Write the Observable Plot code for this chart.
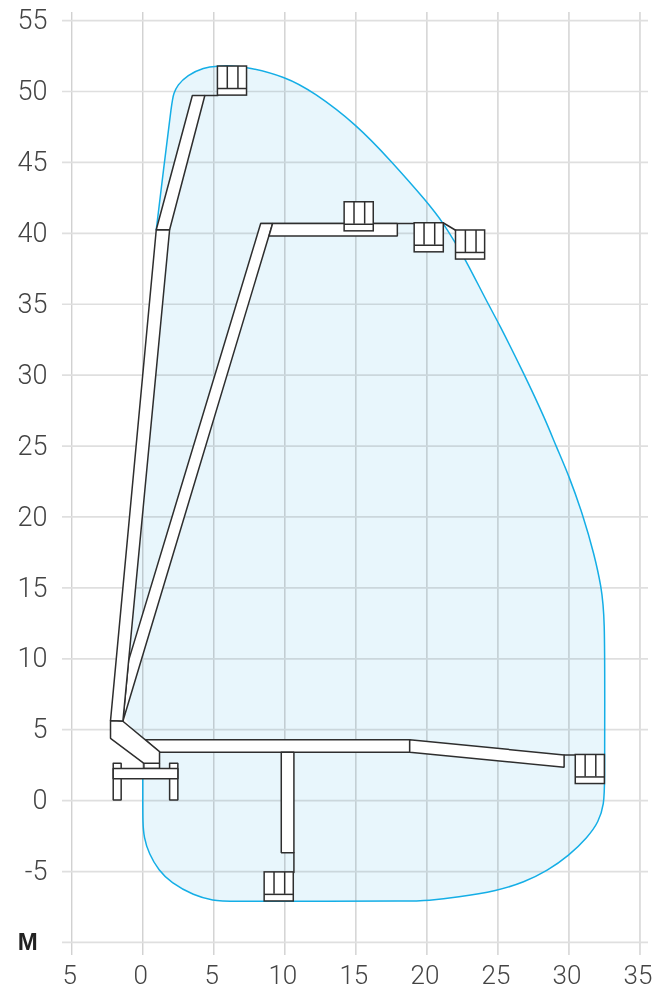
<!DOCTYPE html>
<html><head><meta charset="utf-8">
<script src="https://cdn.jsdelivr.net/npm/d3@7"></script>
<script src="https://cdn.jsdelivr.net/npm/@observablehq/plot@0.6"></script>
<style>html,body{margin:0;padding:0;background:#fff}svg{display:block}</style>
</head><body><div id="chart"></div>
<script>
const xTicks = [-5,0,5,10,15,20,25,30,35];
const yTicks = [-10,-5,0,5,10,15,20,25,30,35,40,45,50,55];
const yLabels = [-5,0,5,10,15,20,25,30,35,40,45,50,55];
const outline = [[0,1.55],[0,0],[0,-1.5],[0.08,-2.6],[0.43,-3.74],[1.13,-4.94],[1.96,-5.76],[3.6,-6.7],[5,-7.05],[5.95,-7.1],[12,-7.1],[18.85,-7.09],[20.03,-7.05],[22.14,-6.82],[24.97,-6.35],[26.84,-5.76],[28.49,-4.94],[30,-3.88],[31.3,-2.6],[32.1,-1.5],[32.47,-0.23],[32.52,1.18],[32.52,7],[32.52,12.93],[32.29,15.04],[31.77,17.4],[31.02,20.03],[30,22.92],[29.07,25.04],[28.37,26.8],[26.84,30.09],[25,33.78],[24.26,35.1],[22.73,38.13],[22.03,39.27],[21.2,40.66],[20.03,42.2],[17.45,45.13],[15.04,47.67],[12.05,49.95],[10,51.06],[7.36,51.72],[6.3,51.82],[5.24,51.8],[4.3,51.7],[3.13,51.15],[2.44,50.45],[2.17,49.84],[2.06,49.37],[1.5,44.8],[0.95,40.25]];
const closing = [[0.9,40],[-0.3,23],[-1.2,7],[-1.4,5.6],[0.16,4.3],[0.6,2.2]];
const parts = [
 [[-1.4,5.6],[-1.0,9.87],[8.3,40.69],[9.14,40.69]],
 [[9.14,40.69],[17.92,40.69],[17.92,39.82],[8.89,39.82]],
 [[-2.27,5.64],[0.95,40.25],[1.89,40.25],[-1.4,5.6]],
 [[0.95,40.25],[3.49,49.72],[4.37,49.72],[1.89,40.25]],
 [[0.16,4.3],[18.79,4.3],[18.79,3.41],[1.18,3.41]],
 [[18.79,4.3],[29.66,3.22],[29.66,2.35],[18.79,3.41]],
 [[9.75,3.41],[10.64,3.41],[10.64,-3.67],[9.75,-3.67]],
 [[0.08,2.63],[1.18,2.63],[1.18,2.26],[0.08,2.26]],
 [[-2.08,2.63],[-1.52,2.63],[-1.52,0.05],[-2.08,0.05]],
 [[1.89,2.63],[2.47,2.63],[2.47,0.05],[1.89,0.05]],
 [[-2.08,2.26],[2.47,2.26],[2.47,1.55],[-2.08,1.55]],
 [[-2.27,5.64],[-1.4,5.6],[1.18,3.46],[1.18,2.63],[0.08,2.63],[-2.27,4.39]]
];
const connectors = [
 [[4.37,49.72],[5.29,49.72]],
 [[8.3,40.69],[19.14,40.69]],
 [[21.2,40.71],[22.05,40.2]],
 [[29.66,3.22],[30.48,3.22]],
 [[10.64,-3.67],[10.64,-5.06]]
];
const basketLeft = [5.29,14.21,19.14,22.05,30.48,8.58];
const basketTop = [51.76,42.19,40.71,40.2,3.22,-5.06];
const basketSize = 2.05, bandHeight = 0.5, dividerOffsets = [0.66,1.41];

const baskets = basketLeft.map((x,i)=>({x,y:basketTop[i]}));
const dividers = baskets.flatMap(b=>dividerOffsets.map(o=>({x:b.x+o,y1:b.y,y2:b.y-basketSize+bandHeight})));
const polyRows = parts.flatMap((p,i)=>[...p,p[0]].map(([x,y])=>({x,y,z:i})));
const connRows = connectors.flatMap((p,i)=>p.map(([x,y])=>({x,y,z:i})));
const ink = "#2e2e2e", lw = 1.5;
const font = "Roboto, 'Liberation Sans', sans-serif";

const chart = Plot.plot({
  width:665,height:992,marginLeft:62,marginRight:17,marginTop:12,marginBottom:37,
  x:{domain:[-5.65,35.6],axis:null},
  y:{domain:[-10.92,55.57],axis:null},
  style:{background:"#fff",fontFamily:font},
  marks:[
    Plot.ruleX(xTicks,{x:d=>d,y1:-10.92,y2:55.57,stroke:"#cdcdcd",strokeWidth:1.3}),
    Plot.ruleY(yTicks,{y:d=>d,x1:-5.65,x2:35.6,stroke:"#dfdfdf",strokeWidth:1.7}),
    Plot.line([...outline,...closing],{x:d=>d[0],y:d=>d[1],fill:"#e8f6fc",stroke:"none",curve:"basis",mixBlendMode:"multiply"}),
    Plot.line(outline,{x:d=>d[0],y:d=>d[1],stroke:"#14aee6",strokeWidth:1.5,curve:"basis"}),
    Plot.line(connRows,{x:"x",y:"y",z:"z",stroke:ink,strokeWidth:lw}),
    Plot.line(polyRows,{x:"x",y:"y",z:"z",fill:"#fff",stroke:ink,strokeWidth:lw,strokeLinejoin:"miter"}),
    Plot.rect(baskets,{x1:"x",x2:d=>d.x+basketSize,y1:"y",y2:d=>d.y-basketSize,fill:"#fff",stroke:ink,strokeWidth:lw}),
    Plot.ruleY(baskets,{y:d=>d.y-basketSize+bandHeight,x1:"x",x2:d=>d.x+basketSize,stroke:ink,strokeWidth:lw}),
    Plot.ruleX(dividers,{x:"x",y1:"y1",y2:"y2",stroke:ink,strokeWidth:lw}),
    Plot.axisX(xTicks,{anchor:"bottom",label:null,tickSize:0,tickPadding:10,tickFormat:d=>String(Math.abs(d)),fontSize:26,fontWeight:300,fill:"#444",dx:-2,fontFamily:font}),
    Plot.axisY(yLabels,{anchor:"left",label:null,tickSize:0,tickPadding:15,tickFormat:d=>String(d),fontSize:27,fontWeight:300,fill:"#444",fontFamily:font}),
    Plot.text(["M"],{x:-8.8,y:-10,text:d=>d,textAnchor:"start",fontSize:24,fontWeight:700,fill:"#222",fontFamily:"'Liberation Sans',sans-serif"})
  ]
});
document.getElementById("chart").append(chart);
</script></body></html>
